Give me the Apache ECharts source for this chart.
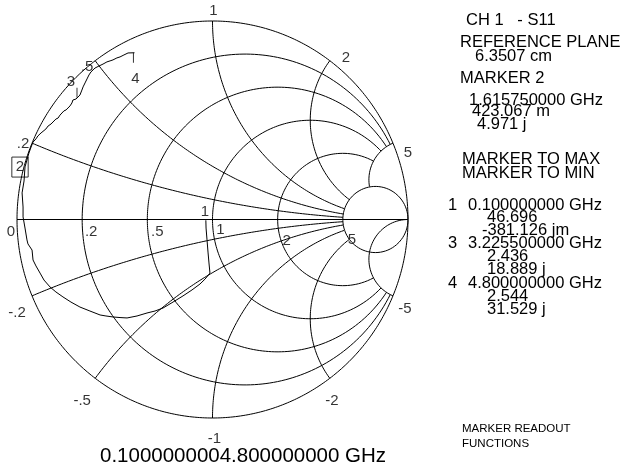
<!DOCTYPE html>
<html><head><meta charset="utf-8">
<script src="https://cdn.jsdelivr.net/npm/echarts@6/dist/echarts.min.js"></script>
<style>html,body{margin:0;padding:0;background:#fff}#c{width:626px;height:473px}</style>
</head><body><div id="c"></div>
<script>
// ---------------- data ----------------
const resistanceCircles = [0, 0.2, 0.5, 1, 2, 5];
const resistanceLabels  = ['0', '.2', '.5', '1', '2', '5'];
const reactanceArcs     = [0.2, 0.5, 1, 2, 5, -0.2, -0.5, -1, -2, -5];
const reactanceLabels   = ['.2', '.5', '1', '2', '5', '-.2', '-.5', '-1', '-2', '-5'];

// measured S11 trace (reflection coefficient, real / imaginary), 0.1 -> 4.8 GHz
const traceRe = [-0.034, -0.033, -0.028, -0.023, -0.018, -0.013, -0.038, -0.064, -0.105, -0.151,
  -0.202, -0.253, -0.294, -0.335, -0.386, -0.437, -0.473, -0.509, -0.545, -0.575,
  -0.627, -0.678, -0.724, -0.765, -0.801, -0.831, -0.862, -0.882, -0.903, -0.918,
  -0.923, -0.944, -0.949, -0.959, -0.969, -0.969, -0.974, -0.964, -0.959, -0.949,
  -0.939, -0.928, -0.918, -0.903, -0.893, -0.877, -0.867, -0.852, -0.841, -0.826,
  -0.816, -0.801, -0.790, -0.780, -0.770, -0.760, -0.749, -0.739, -0.729, -0.719,
  -0.714, -0.698, -0.688, -0.678, -0.668, -0.662, -0.652, -0.642, -0.632, -0.622,
  -0.601, -0.581, -0.560, -0.540, -0.524, -0.509, -0.489, -0.473, -0.453, -0.432, -0.399];
const traceIm = [-0.004, -0.043, -0.103, -0.164, -0.219, -0.270, -0.300, -0.325, -0.355, -0.385,
  -0.416, -0.446, -0.461, -0.471, -0.486, -0.496, -0.494, -0.491, -0.486, -0.481,
  -0.461, -0.441, -0.416, -0.390, -0.365, -0.340, -0.305, -0.270, -0.234, -0.204,
  -0.154, -0.123, -0.103, -0.043, 0.013, 0.063, 0.134, 0.194, 0.265, 0.300,
  0.335, 0.365, 0.390, 0.406, 0.421, 0.436, 0.446, 0.456, 0.471, 0.481,
  0.491, 0.506, 0.511, 0.526, 0.526, 0.547, 0.552, 0.562, 0.572, 0.587,
  0.602, 0.607, 0.608, 0.627, 0.652, 0.668, 0.688, 0.708, 0.728, 0.743,
  0.763, 0.773, 0.783, 0.794, 0.799, 0.804, 0.814, 0.819, 0.829, 0.839, 0.840];

const markerIds     = ['1', '2', '3', '4'];
const markerFreqGHz = [0.1, 1.61575, 3.2255, 4.8];
const markerResOhm  = [46.696, 0.423067, 2.436, 2.544];
const markerReacOhm = [-0.381126, 4.971, 18.889, 31.529];
const activeMarker  = 1;          // index of marker 2
const startFreqGHz  = 0.1;
const stopFreqGHz   = 4.8;
const z0Ohm         = 50;
const refPlaneCm    = 6.3507;
const channelText   = 'CH 1   - S11';

// ---------------- styles / layout ----------------
const FONT = '"Liberation Sans", Arial, Helvetica, sans-serif';
const INK = '#000';
const rLabelOffsets = [[-6, 12], [9, 12], [10, 12], [8, 10], [9, 21], [9, 20]];
const xLabelOffsets = [[-9, 1], [-8, 6], [1, -10], [16, -3], [15, 10],
                       [-15, 17], [-13, 23], [2, 21], [2, 23], [12, 13]];
const markerLabelOffsets = [[-1, -8], [-4, -14], [-7, -17], [1, 26]];
const markerTickOffsets  = [null, null, [-1, -6], [-1, 5]];
const CLIP = 5;                   // grid clipping (plotter style graticule)

// ---------------- helpers ----------------
function gam(r, x) {
  if (!isFinite(r) || !isFinite(x)) return [1, 0];
  const d = (r + 1) * (r + 1) + x * x;
  return [(r * r - 1 + x * x) / d, 2 * x / d];
}
function fullCircle(r) {
  const c = r / (1 + r), p = 1 / (1 + r), pts = [], N = 480;
  for (let i = 0; i <= N; i++) { const t = 2 * Math.PI * i / N; pts.push([c + p * Math.cos(t), p * Math.sin(t)]); }
  return pts;
}
function clippedCircle(r, xmax) {
  const a = Math.atan(xmax), pts = [], N = 480;
  for (let i = 0; i <= N; i++) pts.push(gam(r, Math.tan(-a + 2 * a * i / N)));
  return pts;
}
function arc(x, rmax) {
  const smax = isFinite(rmax) ? rmax / (1 + rmax) : 1, pts = [], N = 480;
  for (let i = 0; i <= N; i++) {
    const s = smax * i / N;
    pts.push(s >= 1 ? [1, 0] : gam(s / (1 - s), x));
  }
  return pts;
}
function lineSeries(pts, extra) {
  return Object.assign({ type: 'line', data: pts, symbol: 'none', showSymbol: false, clip: false,
    silent: true, lineStyle: { color: INK, width: 1 }, z: 2 }, extra || {});
}
function fmtRes(v) { return Math.abs(v) >= 1 ? v.toFixed(3) : (v * 1000).toFixed(3) + ' m'; }
function fmtReac(v) { return Math.abs(v) >= 1 ? v.toFixed(3) + ' j' : (v * 1000).toFixed(3) + ' jm'; }
function fmtFreq(v) { return v.toFixed(9) + ' GHz'; }

// ---------------- build series ----------------
const series = [];
resistanceCircles.forEach(r => {
  const full = (r === 0 || r === CLIP);
  series.push(lineSeries(full ? fullCircle(r) : clippedCircle(r, CLIP)));
});
reactanceArcs.forEach(x => {
  const rmax = (x === -CLIP) ? Infinity : CLIP;
  series.push(lineSeries(arc(x, rmax)));
});
series.push(lineSeries([gam(0, 0), gam(Infinity, 0)]));   // real axis

// grid labels
const gridLabelData = [];
resistanceCircles.forEach((r, i) => gridLabelData.push({ name: resistanceLabels[i], value: gam(r, 0), label: { offset: rLabelOffsets[i] } }));
reactanceArcs.forEach((x, i) => gridLabelData.push({ name: reactanceLabels[i], value: gam(0, x), label: { offset: xLabelOffsets[i] } }));
series.push({ type: 'scatter', data: gridLabelData, symbolSize: 1, silent: true, z: 5,
  itemStyle: { color: 'rgba(0,0,0,0)' },
  label: { show: true, position: 'inside', formatter: p => p.name, color: INK, fontSize: 15, fontFamily: FONT } });

// trace
series.push(lineSeries(traceRe.map((v, i) => [v, traceIm[i]]), { z: 3 }));

// markers
const markerPts = markerIds.map((id, i) => gam(markerResOhm[i] / z0Ohm, markerReacOhm[i] / z0Ohm));
series.push({ type: 'scatter', symbolSize: 1, silent: true, z: 6, itemStyle: { color: 'rgba(0,0,0,0)' },
  data: markerIds.map((id, i) => {
    const lab = { offset: markerLabelOffsets[i] };
    if (i === activeMarker) Object.assign(lab, { borderColor: INK, borderWidth: 1, padding: [2, 4, 2, 4], lineHeight: 16 });
    return { name: id, value: markerPts[i], label: lab };
  }),
  label: { show: true, position: 'inside', formatter: p => p.name, color: INK, fontSize: 15, fontFamily: FONT } });
series.push({ type: 'scatter', symbol: 'rect', silent: true, z: 6, itemStyle: { color: INK },
  data: markerIds.map((id, i) => markerTickOffsets[i] ? { value: markerPts[i], symbolSize: [1, 10], symbolOffset: markerTickOffsets[i] } : null).filter(Boolean) });

// ---------------- text panel ----------------
const texts = [
  [channelText, 466, 21],
  ['REFERENCE PLANE', 460, 43],
  [refPlaneCm.toFixed(4) + ' cm', 475, 57],
  ['MARKER ' + markerIds[activeMarker], 460, 79],
  [fmtFreq(markerFreqGHz[activeMarker]), 469, 101],
  [fmtRes(markerResOhm[activeMarker]), 472, 112],
  [fmtReac(markerReacOhm[activeMarker]), 477, 125],
  ['MARKER TO MAX', 462, 160],
  ['MARKER TO MIN', 462, 174]
];
const others = markerIds.map((id, i) => i).filter(i => i !== activeMarker);
const rowY = [[206, 218, 231], [244, 257, 270], [284, 297, 310]];
const resX = [487, 487, 487], reacX = [482, 487, 487];
others.forEach((i, k) => {
  texts.push([markerIds[i], 448, rowY[k][0]]);
  texts.push([fmtFreq(markerFreqGHz[i]), 468, rowY[k][0]]);
  texts.push([fmtRes(markerResOhm[i]), resX[k], rowY[k][1]]);
  texts.push([fmtReac(markerReacOhm[i]), reacX[k], rowY[k][2]]);
});
const graphic = texts.map(t => ({ type: 'text', left: t[1], top: t[2] - 9, silent: true,
  style: { text: t[0], fill: INK, font: '16.5px ' + FONT } }));
graphic.push({ type: 'text', left: 462, top: 423, silent: true, style: { text: 'MARKER READOUT', fill: INK, font: '11.5px ' + FONT } });
graphic.push({ type: 'text', left: 462, top: 438, silent: true, style: { text: 'FUNCTIONS', fill: INK, font: '11.5px ' + FONT } });
graphic.push({ type: 'text', left: 100, top: 446, silent: true,
  style: { text: startFreqGHz.toFixed(9) + stopFreqGHz.toFixed(9) + ' GHz', fill: INK, font: '20.5px ' + FONT } });

const chart = echarts.init(document.getElementById('c'), null, { renderer: 'canvas', width: 626, height: 473 });
chart.setOption({
  animation: false,
  backgroundColor: '#fff',
  grid: { left: 17, top: 21, width: 391, height: 397 },
  xAxis: { type: 'value', min: -1, max: 1, show: false },
  yAxis: { type: 'value', min: -1, max: 1, show: false },
  series: series,
  graphic: graphic
});
</script></body></html>
